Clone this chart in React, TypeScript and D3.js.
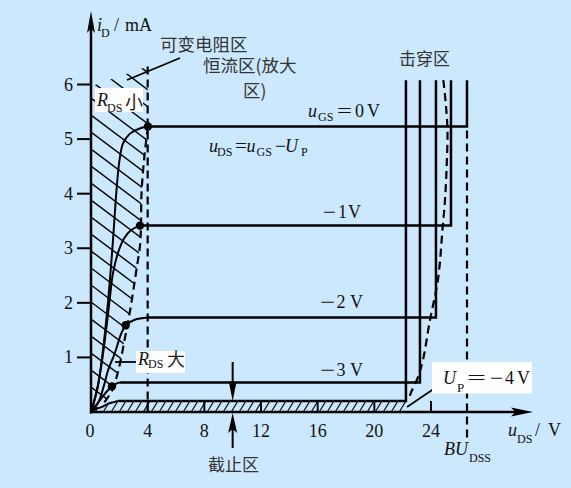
import React from 'react';
import * as d3 from 'd3';

const W = 571;
const H = 488;

// ---- data (u_DS in V, i_D in mA) ----
const saturationCurrent = [5.23, 3.415, 1.73, 0.54, 0.2]; // u_GS = 0, -1, -2, -3, -4 V
const saturationStart = [4.02, 3.46, 4.02, 2.05, 1.91];
const breakdownVoltage = [26.54, 25.41, 24.35, 23.22, 22.23];
const breakdownTop = 6.08;

const ohmic0V = [[0, 0], [0.49, 0.49], [0.92, 1.3], [1.27, 2.22], [1.55, 3.14], [1.8, 4.06], [2.01, 4.61], [2.26, 4.92], [2.75, 5.1], [3.39, 5.19], [4.02, 5.23]];
const ohmic1V = [[0, 0], [0.42, 0.39], [0.78, 0.94], [1.06, 1.49], [1.31, 2.04], [1.55, 2.54], [1.91, 2.92], [2.33, 3.18], [2.82, 3.33], [3.46, 3.415]];
const ohmic2V = [[0, 0], [0.49, 0.16], [0.92, 0.49], [1.2, 0.76], [1.67, 1.07], [2.14, 1.44], [2.45, 1.59], [3.09, 1.69], [4.02, 1.73]];
const ohmic3V = [[0, 0], [0.26, 0.09], [0.73, 0.25], [1.13, 0.38], [1.48, 0.47], [1.79, 0.52], [2.05, 0.54]];
const ohmic4V = [[0, 0], [0.28, 0.05], [0.73, 0.09], [1.2, 0.15], [1.67, 0.185], [1.91, 0.2]];
const ohmicCurves = [ohmic0V, ohmic1V, ohmic2V, ohmic3V, ohmic4V];

const pinchDotV = [4.02, 3.46, 2.45, 1.48];
const pinchDotI = [5.23, 3.415, 1.59, 0.47];

const pinchLocus = [[4.02, 5.23], [3.74, 4.61], [3.56, 3.97], [3.53, 3.42], [3.46, 3.05], [3.25, 2.68], [3.04, 2.32], [2.82, 1.95], [2.61, 1.64], [2.36, 1.31], [2.12, 0.98], [1.84, 0.67], [1.48, 0.39], [0.92, 0.17], [0, 0]];
const ohmicRegionTop = [[0, 5.97], [4, 6.33], [4, 5.23]];
const breakdownLocus = [[24.87, 6.08], [25.04, 5.66], [25.16, 5.17], [25.11, 4.53], [24.99, 3.89], [24.81, 3.34], [24.49, 2.42], [23.93, 1.69], [23.43, 0.95], [23.08, 0.64], [22.66, 0.4], [22.45, 0.26]];

const pinchVoltage = 4; // dashed line u_DS = 4 V
const bvdss = 26.54;
const cutoffArrowV = 10;

const xTicks = [0, 4, 8, 12, 16, 20, 24];
const yTicks = [1, 2, 3, 4, 5, 6];

// ---- scales ----
const x = d3.scaleLinear().domain([0, 24]).range([91, 431]);
const y = d3.scaleLinear().domain([0, 6]).range([412, 84.5]);

const serif = '"Liberation Serif", "Times New Roman", serif';
const cjk = '"Noto Sans CJK SC", sans-serif';
const BG = '#cce8fd';

const line = d3.line<number[]>().x(d => x(d[0])).y(d => y(d[1])).curve(d3.curveCatmullRom.alpha(0.5));
const poly = (pts: number[][]) => 'M' + pts.map(p => `${x(p[0])},${y(p[1])}`).join('L') + 'Z';

function T(props: { x: number; y: number; s?: number; it?: boolean; len?: number; f?: string; fill?: string; anchor?: string; children: any }) {
  const { s = 18, it = false, len, f = serif, fill = '#111', anchor = 'start' } = props;
  return (
    <text x={props.x} y={props.y} fontSize={s} fontStyle={it ? 'italic' : 'normal'} fontFamily={f} fill={fill}
      textAnchor={anchor} {...(len ? { textLength: len, lengthAdjust: 'spacingAndGlyphs' } : {})}>
      {props.children}
    </text>
  );
}

function arrowHead(tx: number, ty: number, dir: 'up' | 'down' | 'right', len: number, hw: number) {
  if (dir === 'up') return `M${tx},${ty}L${tx - hw},${ty + len}L${tx},${ty + len * 0.8}L${tx + hw},${ty + len}Z`;
  if (dir === 'down') return `M${tx},${ty}L${tx - hw},${ty - len}L${tx},${ty - len * 0.8}L${tx + hw},${ty - len}Z`;
  return `M${tx},${ty}L${tx - len},${ty - hw}L${tx - len * 0.8},${ty}L${tx - len},${ty + hw}Z`;
}

export default function App() {
  const leftRegion = [...ohmicRegionTop, ...pinchLocus];
  const bandRegion = [...ohmic4V, [breakdownVoltage[4], saturationCurrent[4]], [breakdownVoltage[4], 0]];
  const hatchLeft = d3.range(30, 430, 17);
  const hatchBand = d3.range(86, 420, 8);
  const dash = '8 5';
  const ax0 = y(0);

  return (
    <svg width={W} height={H} style={{ position: 'absolute', left: 0, top: 0 }}>
      <defs>
        <clipPath id="leftClip"><path d={poly(leftRegion)} /></clipPath>
        <clipPath id="bandClip"><path d={poly(bandRegion)} /></clipPath>
      </defs>
      <rect width={W} height={H} fill={BG} />

      {/* hatching: variable resistance region */}
      <g clipPath="url(#leftClip)" stroke="#000" strokeWidth={1.4}>
        {hatchLeft.map(c => <line key={c} x1={x(0)} y1={c} x2={x(0) + 200} y2={c + 0.75 * 200} />)}
      </g>
      {/* hatching: cut-off band */}
      <g clipPath="url(#bandClip)" stroke="#000" strokeWidth={1.1}>
        {hatchBand.map(c => <line key={c} x1={c} y1={ax0 + 2} x2={c + 8.5} y2={ax0 - 12} />)}
      </g>

      {/* dashed lines */}
      <g fill="none" stroke="#000" strokeWidth={2.2} strokeDasharray={dash}>
        <line x1={x(pinchVoltage)} y1={y(6.33)} x2={x(pinchVoltage)} y2={ax0} />
        <line x1={x(bvdss)} y1={y(saturationCurrent[0]) + 4} x2={x(bvdss)} y2={442} />
        <path d={line(pinchLocus.slice(0, 14)) as string} />
        <path d={line(breakdownLocus) as string} />
      </g>

      {/* characteristic curves */}
      <g fill="none" stroke="#000">
        {ohmicCurves.map((c, i) => <path key={'o' + i} d={line(c) as string} strokeWidth={2} />)}
        {saturationCurrent.map((I, i) => (
          <path key={'s' + i} strokeWidth={2.5}
            d={`M${x(saturationStart[i])},${y(I)}H${x(breakdownVoltage[i])}V${y(breakdownTop)}`} />
        ))}
      </g>
      {pinchDotV.map((v, i) => <circle key={'d' + i} cx={x(v)} cy={y(pinchDotI[i])} r={4.2} fill="#000" />)}

      {/* axes */}
      <g stroke="#000" strokeWidth={2.5} fill="none">
        <line x1={x(0)} y1={ax0 + 1.5} x2={x(0)} y2={28} />
        <line x1={x(0) - 1} y1={ax0} x2={518} y2={ax0} />
        {yTicks.map(t => <line key={'yt' + t} x1={77} y1={y(t)} x2={x(0)} y2={y(t)} strokeWidth={2} />)}
        {xTicks.filter(t => t > 0).map(t => <line key={'xt' + t} x1={x(t)} y1={ax0} x2={x(t)} y2={ax0 - 11} strokeWidth={2} />)}
      </g>
      <path d={arrowHead(x(0), 11, 'up', 22, 4)} fill="#000" />
      <path d={arrowHead(533, ax0, 'right', 22, 4.5)} fill="#000" />

      {/* cut-off arrows */}
      <g stroke="#000" strokeWidth={2}>
        <line x1={x(cutoffArrowV)} y1={362} x2={x(cutoffArrowV)} y2={390} />
        <line x1={x(cutoffArrowV)} y1={448} x2={x(cutoffArrowV)} y2={425} />
      </g>
      <path d={arrowHead(x(cutoffArrowV), y(saturationCurrent[4]), 'down', 20, 4)} fill="#000" />
      <path d={arrowHead(x(cutoffArrowV), ax0 + 1, 'up', 20, 4.5)} fill="#000" />

      {/* tick labels */}
      {xTicks.map(t => <T key={'xl' + t} x={x(t) - (t === 0 ? 1 : 0)} y={437} anchor="middle">{String(t)}</T>)}
      {yTicks.map(t => <T key={'yl' + t} x={68.5} y={y(t) + 6} anchor="middle">{String(t)}</T>)}

      {/* axis titles */}
      <T x={97} y={31} it>i</T>
      <T x={101} y={37} s={12}>D</T>
      <T x={114} y={31}>/</T>
      <T x={125} y={31}>mA</T>

      <T x={508} y={436} it>u</T>
      <T x={517} y={443} s={12}>DS</T>
      <T x={535} y={436}>/</T>
      <T x={548} y={436}>V</T>

      <T x={444} y={455} it>BU</T>
      <T x={469} y={462} s={12}>DSS</T>

      {/* curve labels */}
      <T x={308} y={117} it>u</T>
      <T x={318} y={121} s={12}>GS</T>
      <T x={337} y={117} len={15}>=</T>
      <T x={355} y={117}>0</T>
      <T x={367} y={117}>V</T>

      <T x={209} y={152} it>u</T>
      <T x={217} y={156} s={12}>DS</T>
      <T x={235} y={152} len={12}>=</T>
      <T x={246.5} y={152} it>u</T>
      <T x={256.5} y={156} s={12}>GS</T>
      <T x={275} y={152} len={11}>−</T>
      <T x={285} y={152} it>U</T>
      <T x={301} y={156} s={12}>P</T>

      <T x={323} y={217.7} len={13}>−</T>
      <T x={338} y={217.7}>1</T>
      <T x={348} y={217.7}>V</T>

      <T x={320} y={308.3} len={15}>−</T>
      <T x={336.5} y={308.3}>2</T>
      <T x={350} y={308.3}>V</T>

      <T x={320} y={376} len={15}>−</T>
      <T x={336.5} y={376}>3</T>
      <T x={350} y={376}>V</T>

      {/* U_P = -4 V */}
      <line x1={407} y1={407} x2={438} y2={386} stroke="#000" strokeWidth={1.6} />
      <rect x={432} y={362} width={100} height={31.5} fill="#fff" />
      <T x={443} y={384} it>U</T>
      <T x={457} y={391.5} s={13}>P</T>
      <T x={467} y={384} len={19}>=</T>
      <T x={490} y={384} len={13}>−</T>
      <T x={505} y={384}>4</T>
      <T x={517} y={384}>V</T>

      {/* R_DS labels */}
      <rect x={95} y={88} width={48} height={24} fill="#fff" />
      <T x={97} y={106} it>R</T>
      <T x={107} y={111.5} s={12}>DS</T>
      <T x={125} y={108.5} s={18} f={cjk} fill="#222">小</T>

      <line x1={115} y1={362} x2={136} y2={362} stroke="#000" strokeWidth={1.8} />
      <rect x={136} y={351} width={49} height={22} fill="#fff" />
      <T x={138} y={364.5} it>R</T>
      <T x={148} y={368} s={12}>DS</T>
      <T x={167} y={365.5} s={18} f={cjk} fill="#222">大</T>

      {/* region labels */}
      <line x1={127} y1={80} x2={180} y2={58} stroke="#000" strokeWidth={1.8} />
      <T x={160} y={51} s={17.5} f={cjk} fill="#333">可变电阻区</T>
      <T x={203} y={71.5} s={17.5} f={cjk} fill="#333">恒流区(放大</T>
      <T x={243} y={96.5} s={17.5} f={cjk} fill="#333">区)</T>
      <T x={399} y={65} s={17} f={cjk} fill="#333">击穿区</T>
      <T x={208} y={471} s={17} f={cjk} fill="#333">截止区</T>
    </svg>
  );
}
